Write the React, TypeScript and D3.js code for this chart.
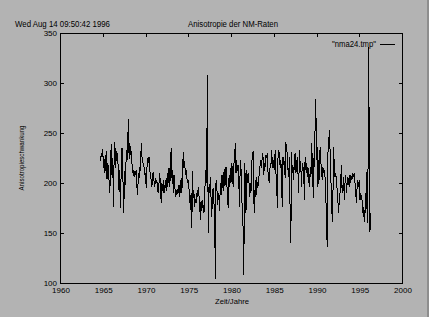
import React from "react";
import * as d3 from "d3";

const START_YEAR = 1964.75;
const STEP = 1 / 12;

const values1965 = [
  222,230,226,234,215,224,210,222,232,204,
  220,215,200,190,224,239,208,225,176,228,
  241,215,232,222,230,205,191,213,175,220,
  235,226,170,186,212,198,233,222,240,264,
  224,240,228,232,220,210,213,206,212,208,
  213,196,188,210,205,216,212,240,226,222,
  218,216,208,210,195,215,225,220,226,214,
  206,203,196,208,211,202,196,205,200,203,
  193,190,200,210,
];
const values1972 = [
  196,180,200,192,203,190,198,195,205,192,
  210,200,215,196,212,235,205,213,190,208,
  200,186,193,188,192,190,198,186,195,205,
  190,210,231,215,222,208,213,205,200,203,
  195,186,173,190,155,212,185,190,176,184,
  180,190,186,196,188,180,163,182,172,183,
  176,170,178,213,200,228,308,150,196,190,
  206,185,166,190,195,180,175,104,203,201,
  178,190,185,172,
];
const values1979 = [
  200,188,208,195,211,192,214,198,216,200,
  190,175,205,196,215,200,220,212,196,218,
  225,240,210,223,212,218,200,176,223,215,
  195,163,156,108,220,205,170,213,200,210,
  206,186,200,190,215,230,231,183,170,203,
  186,206,196,197,206,210,220,223,215,230,
  226,208,220,216,228,226,230,210,203,200,
  220,216,233,220,215,223,213,233,210,203,
  175,226,233,229,
];
const values1986 = [
  215,223,200,176,226,218,222,205,241,233,
  230,213,206,226,170,140,231,210,216,203,
  226,230,210,216,226,210,190,233,220,216,
  196,220,216,213,183,226,213,220,206,216,
  203,196,210,206,240,196,230,185,246,253,
  284,223,236,196,223,203,236,220,216,203,
  216,210,213,206,190,163,136,230,236,253,
  233,203,196,161,183,236,216,206,210,203,
  193,183,170,183,
];
const values1993 = [
  190,203,218,190,196,206,183,200,208,190,
  200,206,203,196,208,200,206,205,210,206,
  210,200,190,180,196,203,196,203,183,190,
  186,183,170,176,161,173,170,211,170,160,
  336,250,151,170,
];

const xTicks = [1960, 1965, 1970, 1975, 1980, 1985, 1990, 1995, 2000];
const yTicks = [100, 150, 200, 250, 300, 350];

const W = 429;
const H = 317;
const FONT = "'Liberation Sans', Arial, sans-serif";

export default function App() {
  const all = [...values1965, ...values1972, ...values1979, ...values1986, ...values1993];
  const data = all.map((v, i) => ({ t: START_YEAR + i * STEP, v }));
  const x = d3.scaleLinear().domain([1960, 2000]).range([60, 402]);
  const y = d3.scaleLinear().domain([100, 350]).range([283, 33]);
  const line = d3
    .line<{ t: number; v: number }>()
    .x((d) => x(d.t))
    .y((d) => y(d.v));

  const x0 = x(1960), x1 = x(2000), y0 = y(100), y1 = y(350);

  return (
    <div style={{ position: "fixed", left: 0, top: 0 }}>
      <svg width={W} height={H} style={{ display: "block" }}>
        <rect x={0} y={0} width={W} height={H} fill="#b3b3b3" />
        <rect x={W - 2} y={0} width={2} height={H} fill="#8e8e8e" />
        {/* frame */}
        <rect x={x0 + 0.5} y={y1 + 0.5} width={x1 - x0} height={y0 - y1} fill="none" stroke="#000" strokeWidth={1} shapeRendering="crispEdges" />
        {/* top ticks */}
        {xTicks.slice(1, -1).map((t) => (
          <line key={"tx" + t} x1={Math.round(x(t)) + 0.5} x2={Math.round(x(t)) + 0.5} y1={y1} y2={y1 + 4} stroke="#000" shapeRendering="crispEdges" />
        ))}
        {/* left / right ticks */}
        {yTicks.slice(1, -1).map((t) => (
          <g key={"ty" + t}>
            <line x1={x0} x2={x0 + 4} y1={Math.round(y(t)) + 0.5} y2={Math.round(y(t)) + 0.5} stroke="#000" shapeRendering="crispEdges" />
            <line x1={x1 - 3} x2={x1} y1={Math.round(y(t)) + 0.5} y2={Math.round(y(t)) + 0.5} stroke="#000" shapeRendering="crispEdges" />
          </g>
        ))}
        {/* x tick labels */}
        {xTicks.map((t) => (
          <text key={"lx" + t} x={x(t) + 1} y={293} fontFamily={FONT} fontSize={8} textAnchor="middle" fill="#000">
            {t}
          </text>
        ))}
        {/* y tick labels */}
        {yTicks.map((t) => (
          <text key={"ly" + t} x={57} y={y(t) + 3} fontFamily={FONT} fontSize={8} textAnchor="end" fill="#000">
            {t}
          </text>
        ))}
        {/* data line */}
        <path d={line(data) || ""} fill="none" stroke="#000" strokeWidth={1} shapeRendering="crispEdges" />
        {/* texts */}
        <text x={15} y={27} fontFamily={FONT} fontSize={8.5} fill="#000" textLength={95} lengthAdjust="spacingAndGlyphs">
          Wed Aug 14 09:50:42 1996
        </text>
        <text x={233} y={27} fontFamily={FONT} fontSize={8.5} textAnchor="middle" fill="#000" textLength={90} lengthAdjust="spacingAndGlyphs">
          Anisotropie der NM-Raten
        </text>
        <text x={232} y={304} fontFamily={FONT} fontSize={8} textAnchor="middle" fill="#000" textLength={34} lengthAdjust="spacingAndGlyphs">
          Zeit/Jahre
        </text>
        <text transform={`translate(24,${(y0 + y1) / 2}) rotate(-90)`} fontFamily={FONT} fontSize={8} textAnchor="middle" fill="#000" textLength={65} lengthAdjust="spacingAndGlyphs">
          Anisotropieschwankung
        </text>
        {/* legend */}
        <text x={376} y={47} fontFamily={FONT} fontSize={8.5} textAnchor="end" fill="#000" textLength={44} lengthAdjust="spacingAndGlyphs">
          "nma24.tmp"
        </text>
        <line x1={380} x2={395} y1={44.5} y2={44.5} stroke="#000" shapeRendering="crispEdges" />
      </svg>
    </div>
  );
}
